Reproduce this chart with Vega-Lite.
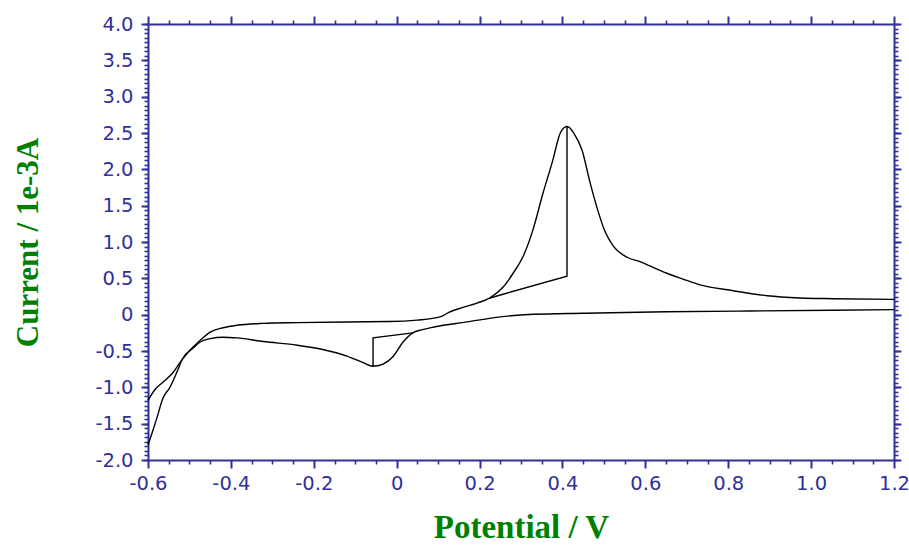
{
  "$schema": "https://vega.github.io/schema/vega-lite/v6.json",
  "width": 746,
  "height": 436,
  "autosize": "none",
  "padding": {"left": 148, "top": 24, "right": 15, "bottom": 88},
  "background": "white",
  "config": {"view": {"stroke": null}},
  "datasets": {
    "cv": [
      {"s":"fwd","i":1,"E":-0.600,"I":-1.18},
      {"s":"fwd","i":2,"E":-0.583,"I":-1.03},
      {"s":"fwd","i":3,"E":-0.564,"I":-0.93},
      {"s":"fwd","i":4,"E":-0.540,"I":-0.80},
      {"s":"fwd","i":5,"E":-0.523,"I":-0.66},
      {"s":"fwd","i":6,"E":-0.499,"I":-0.49},
      {"s":"fwd","i":7,"E":-0.479,"I":-0.38},
      {"s":"fwd","i":8,"E":-0.450,"I":-0.24},
      {"s":"fwd","i":9,"E":-0.419,"I":-0.18},
      {"s":"fwd","i":10,"E":-0.385,"I":-0.145},
      {"s":"fwd","i":11,"E":-0.322,"I":-0.12},
      {"s":"fwd","i":12,"E":-0.240,"I":-0.11},
      {"s":"fwd","i":13,"E":-0.120,"I":-0.10},
      {"s":"fwd","i":14,"E":-0.016,"I":-0.095},
      {"s":"fwd","i":15,"E":0.049,"I":-0.075},
      {"s":"fwd","i":16,"E":0.105,"I":-0.03},
      {"s":"fwd","i":17,"E":0.129,"I":0.04},
      {"s":"fwd","i":18,"E":0.160,"I":0.10},
      {"s":"fwd","i":19,"E":0.194,"I":0.16},
      {"s":"fwd","i":20,"E":0.225,"I":0.23},
      {"s":"fwd","i":21,"E":0.257,"I":0.38},
      {"s":"fwd","i":22,"E":0.281,"I":0.57},
      {"s":"fwd","i":23,"E":0.305,"I":0.80},
      {"s":"fwd","i":24,"E":0.329,"I":1.17},
      {"s":"fwd","i":25,"E":0.353,"I":1.67},
      {"s":"fwd","i":26,"E":0.377,"I":2.13},
      {"s":"fwd","i":27,"E":0.394,"I":2.49},
      {"s":"fwd","i":28,"E":0.403,"I":2.57},
      {"s":"fwd","i":29,"E":0.411,"I":2.59},
      {"s":"fwd","i":30,"E":0.418,"I":2.57},
      {"s":"fwd","i":31,"E":0.426,"I":2.51},
      {"s":"fwd","i":32,"E":0.447,"I":2.27},
      {"s":"fwd","i":33,"E":0.467,"I":1.81},
      {"s":"fwd","i":34,"E":0.483,"I":1.48},
      {"s":"fwd","i":35,"E":0.503,"I":1.14},
      {"s":"fwd","i":36,"E":0.522,"I":0.95},
      {"s":"fwd","i":37,"E":0.556,"I":0.79},
      {"s":"fwd","i":38,"E":0.587,"I":0.73},
      {"s":"fwd","i":39,"E":0.611,"I":0.67},
      {"s":"fwd","i":40,"E":0.652,"I":0.57},
      {"s":"fwd","i":41,"E":0.691,"I":0.49},
      {"s":"fwd","i":42,"E":0.732,"I":0.41},
      {"s":"fwd","i":43,"E":0.812,"I":0.33},
      {"s":"fwd","i":44,"E":0.894,"I":0.26},
      {"s":"fwd","i":45,"E":0.973,"I":0.23},
      {"s":"fwd","i":46,"E":1.053,"I":0.22},
      {"s":"fwd","i":47,"E":1.200,"I":0.21},
      {"s":"rev","i":1,"E":-0.600,"I":-1.79},
      {"s":"rev","i":2,"E":-0.588,"I":-1.59},
      {"s":"rev","i":3,"E":-0.578,"I":-1.41},
      {"s":"rev","i":4,"E":-0.564,"I":-1.15},
      {"s":"rev","i":5,"E":-0.547,"I":-1.00},
      {"s":"rev","i":6,"E":-0.531,"I":-0.80},
      {"s":"rev","i":7,"E":-0.516,"I":-0.60},
      {"s":"rev","i":8,"E":-0.491,"I":-0.46},
      {"s":"rev","i":9,"E":-0.475,"I":-0.38},
      {"s":"rev","i":10,"E":-0.450,"I":-0.33},
      {"s":"rev","i":11,"E":-0.419,"I":-0.31},
      {"s":"rev","i":12,"E":-0.385,"I":-0.32},
      {"s":"rev","i":13,"E":-0.322,"I":-0.37},
      {"s":"rev","i":14,"E":-0.240,"I":-0.42},
      {"s":"rev","i":15,"E":-0.178,"I":-0.48},
      {"s":"rev","i":16,"E":-0.120,"I":-0.57},
      {"s":"rev","i":17,"E":-0.081,"I":-0.66},
      {"s":"rev","i":18,"E":-0.057,"I":-0.71},
      {"s":"rev","i":19,"E":-0.033,"I":-0.68},
      {"s":"rev","i":20,"E":-0.009,"I":-0.58},
      {"s":"rev","i":21,"E":0.015,"I":-0.38},
      {"s":"rev","i":22,"E":0.039,"I":-0.25},
      {"s":"rev","i":23,"E":0.060,"I":-0.21},
      {"s":"rev","i":24,"E":0.090,"I":-0.17},
      {"s":"rev","i":25,"E":0.170,"I":-0.10},
      {"s":"rev","i":26,"E":0.250,"I":-0.03},
      {"s":"rev","i":27,"E":0.330,"I":0.005},
      {"s":"rev","i":28,"E":0.450,"I":0.02},
      {"s":"rev","i":29,"E":0.550,"I":0.03},
      {"s":"rev","i":30,"E":0.650,"I":0.04},
      {"s":"rev","i":31,"E":0.850,"I":0.05},
      {"s":"rev","i":32,"E":1.050,"I":0.06},
      {"s":"rev","i":33,"E":1.200,"I":0.07},
      {"s":"base1","i":1,"E":0.225,"I":0.23},
      {"s":"base1","i":2,"E":0.411,"I":0.53},
      {"s":"base1","i":3,"E":0.411,"I":2.59},
      {"s":"base2","i":1,"E":0.039,"I":-0.25},
      {"s":"base2","i":2,"E":-0.057,"I":-0.32},
      {"s":"base2","i":3,"E":-0.057,"I":-0.71}
    ]
  },
  "data": {"name": "cv"},
  "layer": [
    {
      "transform": [{"filter": "datum.s == 'fwd' || datum.s == 'rev'"}],
      "mark": {"type": "line", "color": "#000000", "strokeWidth": 1.4, "interpolate": "monotone"},
      "encoding": {
        "x": {"field": "E", "type": "quantitative",
          "scale": {"domain": [-0.6, 1.2], "nice": false, "zero": false},
          "axis": {"orient": "bottom", "title": "Potential / V", "grid": false,
            "values": [-0.6,-0.4,-0.2,0,0.2,0.4,0.6,0.8,1.0,1.2],
            "labelExpr": "datum.value == 0 ? '0' : (datum.value < 0 ? '-' + format(-datum.value, '.1f') : format(datum.value, '.1f'))",
            "labelFont": "DejaVu Sans", "labelFontSize": 19.5, "labelColor": "#30309C",
            "labelPadding": 6, "labelOverlap": false, "labelFlush": false, "labelBound": false,
            "tickSize": 8, "tickWidth": 2, "tickColor": "#30309C",
            "domainColor": "#30309C", "domainWidth": 2,
            "titleFont": "Liberation Serif", "titleFontWeight": "bold", "titleFontSize": 33,
            "titleColor": "#008000", "titlePadding": 19}},
        "y": {"field": "I", "type": "quantitative",
          "scale": {"domain": [-2, 4], "nice": false, "zero": false},
          "axis": {"orient": "left", "title": "Current / 1e-3A", "grid": false,
            "values": [-2,-1.5,-1,-0.5,0,0.5,1,1.5,2,2.5,3,3.5,4],
            "labelExpr": "datum.value == 0 ? '0' : (datum.value < 0 ? '-' + format(-datum.value, '.1f') : format(datum.value, '.1f'))",
            "labelFont": "DejaVu Sans", "labelFontSize": 19.5, "labelColor": "#30309C",
            "labelPadding": 8, "labelOverlap": false, "labelFlush": false, "labelBound": false,
            "tickSize": 7, "tickWidth": 2, "tickColor": "#30309C",
            "domainColor": "#30309C", "domainWidth": 2,
            "titleFont": "Liberation Serif", "titleFontWeight": "bold", "titleFontSize": 31,
            "titleColor": "#008000", "titlePadding": 50}},
        "detail": {"field": "s"},
        "order": {"field": "i", "type": "quantitative"}
      }
    },
    {
      "transform": [{"filter": "datum.s == 'base1' || datum.s == 'base2'"}],
      "mark": {"type": "line", "color": "#000000", "strokeWidth": 1.4, "interpolate": "linear"},
      "encoding": {
        "x": {"field": "E", "type": "quantitative", "axis": null},
        "y": {"field": "I", "type": "quantitative", "axis": null},
        "detail": {"field": "s"},
        "order": {"field": "i", "type": "quantitative"}
      }
    },
    {
      "mark": {"type": "line", "strokeOpacity": 0},
      "encoding": {
        "x": {"field": "E", "type": "quantitative",
          "axis": {"orient": "bottom", "title": null, "grid": false, "labels": false, "domain": false,
            "values": [-0.55,-0.5,-0.45,-0.35,-0.3,-0.25,-0.15,-0.1,-0.05,0.05,0.1,0.15,0.25,0.3,0.35,0.45,0.5,0.55,0.65,0.7,0.75,0.85,0.9,0.95,1.05,1.1,1.15],
            "tickSize": 4, "tickWidth": 1.6, "tickColor": "#30309C"}},
        "y": {"field": "I", "type": "quantitative",
          "axis": {"orient": "left", "title": null, "grid": false, "labels": false, "domain": false,
            "values": [-2,-1.9375,-1.875,-1.8125,-1.75,-1.6875,-1.625,-1.5625,-1.5,-1.4375,-1.375,-1.3125,-1.25,-1.1875,-1.125,-1.0625,-1,-0.9375,-0.875,-0.8125,-0.75,-0.6875,-0.625,-0.5625,-0.5,-0.4375,-0.375,-0.3125,-0.25,-0.1875,-0.125,-0.0625,0,0.0625,0.125,0.1875,0.25,0.3125,0.375,0.4375,0.5,0.5625,0.625,0.6875,0.75,0.8125,0.875,0.9375,1,1.0625,1.125,1.1875,1.25,1.3125,1.375,1.4375,1.5,1.5625,1.625,1.6875,1.75,1.8125,1.875,1.9375,2,2.0625,2.125,2.1875,2.25,2.3125,2.375,2.4375,2.5,2.5625,2.625,2.6875,2.75,2.8125,2.875,2.9375,3,3.0625,3.125,3.1875,3.25,3.3125,3.375,3.4375,3.5,3.5625,3.625,3.6875,3.75,3.8125,3.875,3.9375,4],
            "tickSize": 4, "tickWidth": 1.6, "tickColor": "#30309C"}},
        "detail": {"field": "s"},
        "order": {"field": "i", "type": "quantitative"}
      }
    },
    {
      "mark": {"type": "line", "strokeOpacity": 0},
      "encoding": {
        "x": {"field": "E", "type": "quantitative",
          "axis": {"orient": "top", "title": null, "grid": false, "labels": false,
            "values": [-0.6,-0.4,-0.2,0,0.2,0.4,0.6,0.8,1.0,1.2],
            "tickSize": 8, "tickWidth": 2, "tickColor": "#30309C",
            "domainColor": "#30309C", "domainWidth": 2}},
        "y": {"field": "I", "type": "quantitative",
          "axis": {"orient": "right", "title": null, "grid": false, "labels": false,
            "values": [-2,-1.5,-1,-0.5,0,0.5,1,1.5,2,2.5,3,3.5,4],
            "tickSize": 7, "tickWidth": 2, "tickColor": "#30309C",
            "domainColor": "#30309C", "domainWidth": 2}},
        "detail": {"field": "s"},
        "order": {"field": "i", "type": "quantitative"}
      }
    },
    {
      "mark": {"type": "line", "strokeOpacity": 0},
      "encoding": {
        "x": {"field": "E", "type": "quantitative",
          "axis": {"orient": "top", "title": null, "grid": false, "labels": false, "domain": false,
            "values": [-0.55,-0.5,-0.45,-0.35,-0.3,-0.25,-0.15,-0.1,-0.05,0.05,0.1,0.15,0.25,0.3,0.35,0.45,0.5,0.55,0.65,0.7,0.75,0.85,0.9,0.95,1.05,1.1,1.15],
            "tickSize": 4, "tickWidth": 1.6, "tickColor": "#30309C"}},
        "y": {"field": "I", "type": "quantitative",
          "axis": {"orient": "right", "title": null, "grid": false, "labels": false, "domain": false,
            "values": [-2,-1.9375,-1.875,-1.8125,-1.75,-1.6875,-1.625,-1.5625,-1.5,-1.4375,-1.375,-1.3125,-1.25,-1.1875,-1.125,-1.0625,-1,-0.9375,-0.875,-0.8125,-0.75,-0.6875,-0.625,-0.5625,-0.5,-0.4375,-0.375,-0.3125,-0.25,-0.1875,-0.125,-0.0625,0,0.0625,0.125,0.1875,0.25,0.3125,0.375,0.4375,0.5,0.5625,0.625,0.6875,0.75,0.8125,0.875,0.9375,1,1.0625,1.125,1.1875,1.25,1.3125,1.375,1.4375,1.5,1.5625,1.625,1.6875,1.75,1.8125,1.875,1.9375,2,2.0625,2.125,2.1875,2.25,2.3125,2.375,2.4375,2.5,2.5625,2.625,2.6875,2.75,2.8125,2.875,2.9375,3,3.0625,3.125,3.1875,3.25,3.3125,3.375,3.4375,3.5,3.5625,3.625,3.6875,3.75,3.8125,3.875,3.9375,4],
            "tickSize": 4, "tickWidth": 1.6, "tickColor": "#30309C"}},
        "detail": {"field": "s"},
        "order": {"field": "i", "type": "quantitative"}
      }
    }
  ],
  "resolve": {"axis": {"x": "independent", "y": "independent"}}
}
